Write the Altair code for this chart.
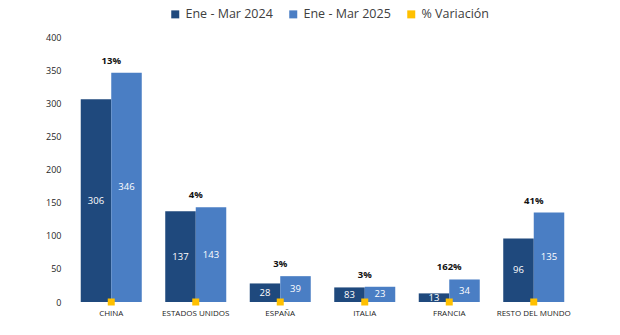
import altair as alt
import pandas as pd

categories = ["CHINA", "ESTADOS UNIDOS", "ESPAÑA", "ITALIA", "FRANCIA", "RESTO DEL MUNDO"]
series = ["Ene - Mar 2024", "Ene - Mar 2025"]
values_2024 = [306, 137, 28, 22, 13, 96]
values_2025 = [346, 143, 39, 23, 34, 135]
labels_2024 = ["306", "137", "28", "83", "13", "96"]
labels_2025 = ["346", "143", "39", "23", "34", "135"]
variation_labels = ["13%", "4%", "3%", "3%", "162%", "41%"]
var_name = "% Variación"

rows = []
for i, c in enumerate(categories):
    rows.append({"cat": c, "serie": series[0], "value": values_2024[i], "label": labels_2024[i]})
    rows.append({"cat": c, "serie": series[1], "value": values_2025[i], "label": labels_2025[i]})
bars_df = pd.DataFrame(rows)

var_df = pd.DataFrame({
    "cat": categories,
    "serie": [var_name] * len(categories),
    "top": [max(a, b) for a, b in zip(values_2024, values_2025)],
    "label": variation_labels,
    "zero": [0] * len(categories),
})

FONT = "Open Sans"
colors = ["#1F497D", "#4A7EC4", "#FFC000"]

x_enc = alt.X("cat:N", sort=categories,
              scale=alt.Scale(paddingInner=0.278, paddingOuter=0.139),
              axis=alt.Axis(title=None, labelAngle=0, domain=False, ticks=False,
                            labelFontSize=8, labelPadding=7, labelColor="#1a1a1a",
                            labelFont=FONT))
xoff = alt.XOffset("serie:N", sort=series, scale=alt.Scale(paddingInner=0, paddingOuter=0))
y_scale = alt.Scale(domain=[0, 400], nice=False)
y_axis = alt.Axis(title=None, values=[0, 50, 100, 150, 200, 250, 300, 350, 400], grid=False,
                  domain=False, ticks=False, labelFontSize=9, labelPadding=8,
                  labelColor="#262626", labelFont=FONT)
color_scale = alt.Scale(domain=series + [var_name], range=colors)
legend = alt.Legend(title=None, orient="none", legendX=100, legendY=-29, direction="horizontal",
                    symbolType="square", symbolSize=64, labelFontSize=12.5, labelFont=FONT,
                    labelColor="#404040", columnPadding=14, symbolOffset=0)

bars = alt.Chart(bars_df).mark_bar().encode(
    x=x_enc, xOffset=xoff,
    y=alt.Y("value:Q", scale=y_scale, axis=y_axis),
    color=alt.Color("serie:N", scale=color_scale, legend=legend),
)

bar_text = alt.Chart(bars_df).transform_calculate(mid="datum.value / 2").mark_text(
    color="white", fontSize=9.5, font=FONT
).encode(
    x=x_enc, xOffset=xoff,
    y=alt.Y("mid:Q", scale=y_scale, axis=y_axis),
    text="label:N",
)

markers = alt.Chart(var_df).mark_point(shape="square", filled=True, size=49, opacity=1).encode(
    x=x_enc,
    y=alt.Y("zero:Q", scale=y_scale, axis=y_axis),
    color=alt.Color("serie:N", scale=color_scale, legend=legend),
)

var_text = alt.Chart(var_df).mark_text(
    fontWeight="bold", fontSize=9.5, font=FONT, baseline="bottom", dy=-7, color="#111111"
).encode(
    x=x_enc,
    y=alt.Y("top:Q", scale=y_scale, axis=y_axis),
    text="label:N",
)

chart = alt.layer(bars, bar_text, markers, var_text).properties(
    width=507, height=265,
    autosize=alt.AutoSizeParams(type="none"),
    padding={"left": 69, "top": 37, "right": 44, "bottom": 33},
).configure(background="white").configure_view(strokeWidth=0, stroke="transparent")

chart.save("out.html", embed_options={"renderer": "svg", "actions": False})
